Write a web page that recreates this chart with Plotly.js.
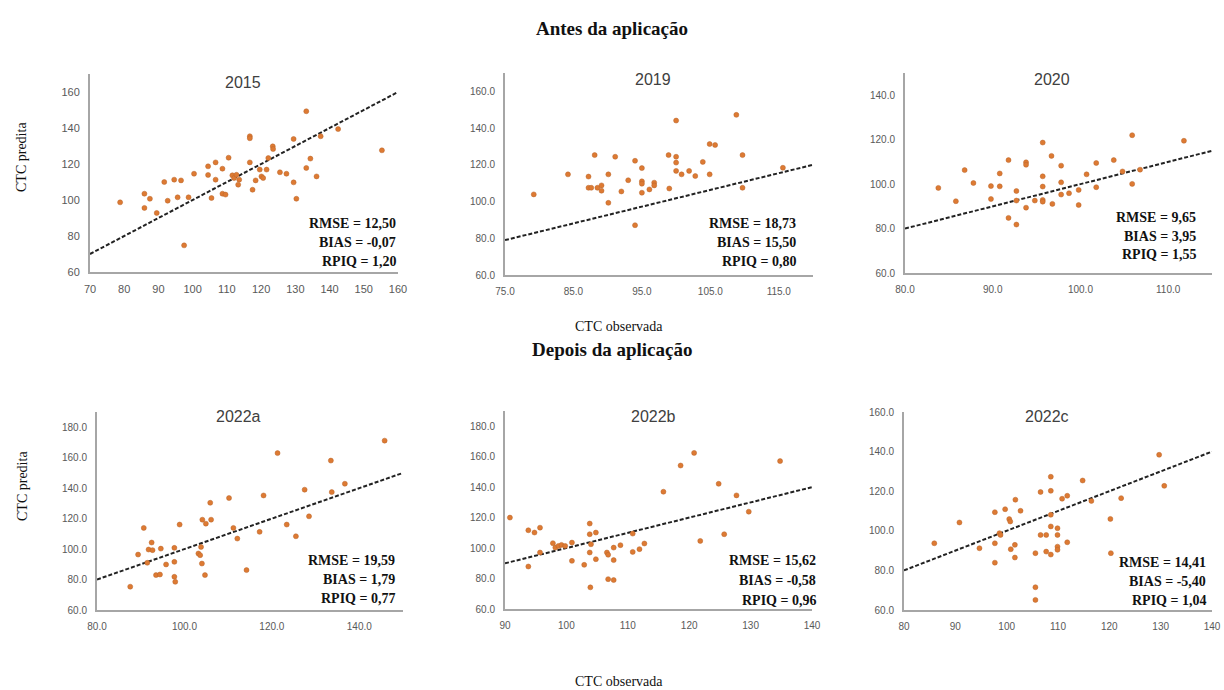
<!DOCTYPE html>
<html>
<head>
<meta charset="utf-8">
<script src="https://cdn.plot.ly/plotly-3.0.1.min.js"></script>
<style>html,body{margin:0;padding:0;background:#fff;}#chart{width:1224px;height:690px;}</style>
</head>
<body>
<div id="chart"></div>
<script>
// ---------- data ----------
const panelTitles = ["2015", "2019", "2020", "2022a", "2022b", "2022c"];
const statsRMSE = ["RMSE = 12,50", "RMSE = 18,73", "RMSE = 9,65", "RMSE = 19,59", "RMSE = 15,62", "RMSE = 14,41"];
const statsBIAS = ["BIAS = -0,07", "BIAS = 15,50", "BIAS = 3,95", "BIAS = 1,79", "BIAS = -0,58", "BIAS = -5,40"];
const statsRPIQ = ["RPIQ = 1,20", "RPIQ = 0,80", "RPIQ = 1,55", "RPIQ = 0,77", "RPIQ = 0,96", "RPIQ = 1,04"];

const obs2015 = [78.8,85.9,85.9,87.5,89.5,91.7,92.7,94.6,95.6,96.6,97.5,98.8,100.4,104.5,104.5,105.5,106.7,106.7,108.7,108.7,109.6,110.5,111.6,112.1,112.8,113.3,113.6,116.7,116.7,116.7,117.5,118.4,119.6,120.1,120.6,121.6,122.1,123.4,123.5,125.5,127.4,129.5,129.5,130.3,133.2,133.2,134.4,136.2,137.4,142.5,155.3];
const pred2015 = [98.7,103.5,95.6,100.7,92.8,110,99.6,111.3,101.5,110.9,74.8,101.5,114.6,118.7,113.9,101.1,120.9,111.3,117.4,103.5,103,123.5,113.7,112.2,114,108.5,111.3,135.4,134.3,120.9,105.7,110.9,116.9,113.1,112.2,116.9,123.3,129.8,128.3,115.4,114.6,133.9,109.8,100.7,149.3,117.8,123,113.1,135.4,139.4,127.6];

const obs2019 = [79.2,84.2,87.2,87.2,88.1,87.6,88.5,89.1,89.1,90.1,90.1,91.1,92,93,94,94,95,95,95,95,96.1,96.8,96.8,98.9,99,100,100,100,100,100.8,101.9,102.8,103.9,104.9,104.9,105.7,108.8,109.7,109.7,115.6];
const pred2019 = [103.9,114.8,113.6,107.5,125.3,107.5,107.5,108.8,105.9,114.8,99.3,124.4,105.5,111.6,122.2,87.1,118.2,111,109.7,104.8,106.6,110.3,108.8,125.3,107.1,144.1,124.4,121.2,116.7,114.8,116.7,113.9,121.6,114.8,131.3,130.8,147.2,125.3,107.5,118.4];

const obs2020 = [83.8,85.8,86.8,87.8,89.8,89.8,90.8,90.8,91.8,91.8,92.7,92.7,92.7,93.8,93.8,93.8,94.8,95.7,95.7,95.7,95.7,95.7,96.7,96.8,97.8,97.8,97.8,98.7,99.8,99.8,100.7,101.8,101.8,103.8,104.8,105.9,105.9,106.8,111.8];
const pred2020 = [98.3,92.3,106.3,100.5,99.1,93.3,104.8,99,110.8,84.8,96.9,92.6,81.8,109.8,108.7,89.4,92.6,118.7,103.5,98.9,92.9,92.1,112.7,91.1,108.3,100.8,95.3,95.9,97.4,90.6,104.4,109.5,98.6,110.8,105.7,122,100.1,106.5,119.5];

const obs2022a = [87.6,89.4,90.7,91.5,91.8,92.5,92.7,93.5,94.4,94.6,95.8,97.7,97.7,97.7,97.9,98.9,103.2,103.6,103.8,104,104.1,104.7,104.9,105.9,106.1,110.2,111.2,112.1,114.2,117.2,118.1,121.3,123.4,125.5,127.5,128.5,133.5,133.7,136.7,145.8];
const pred2022a = [75.3,96.4,113.9,91,99.7,104.3,99.3,82.9,83.3,100.3,89.9,100.8,91.6,81.8,78.5,116.1,97.1,96,101.4,90.5,119.3,82.9,116.7,130.4,119.3,133.5,113.9,106.9,86.2,111.3,135.2,163,116.1,108.4,139,121.5,158.1,137.4,142.9,171.2];

const obs2022b = [90.8,93.8,93.8,94.8,95.7,95.7,97.8,98.2,98.7,99.2,99.8,100.9,100.9,102.9,103.8,103.8,103.8,103.9,104,104.8,104.8,106.6,106.8,106.8,107.7,107.7,107.7,108.8,110.8,110.8,111.9,112.7,115.8,118.6,120.8,121.8,124.8,125.7,127.7,129.7,134.8];
const pred2022b = [120,87.9,111.7,110.2,113.4,97.1,103.2,100.3,101.4,102.1,101.4,103.6,91.6,89,116.1,109.1,97.1,74.2,102.5,110.2,92.7,97.1,95.6,79.6,79,92.1,100.3,101.9,109.5,97.5,99.3,103,137,154.2,162.5,104.7,142.2,109.1,134.6,123.9,157.1];

const obs2022c = [85.9,90.8,94.7,97.7,97.7,97.7,98.6,98.8,99.7,100.5,100.7,100.8,101.6,101.6,101.7,102.7,105.6,105.6,105.6,106.6,106.6,107.7,107.7,108.6,108.6,108.6,108.6,108.6,109.9,109.9,109.9,109.9,110.8,111.8,111.8,114.8,116.5,120.2,120.3,122.3,129.7,130.7];
const pred2022c = [93.7,104.2,91.2,109.4,93.7,83.9,98.8,97.9,110.9,105.9,104.7,90.7,92.9,86.5,115.7,110.1,88.7,71.5,65.1,119.6,97.9,97.9,89.5,127.3,120.2,108.1,102.2,88,101.3,97.9,92,90.4,116.2,117.7,94.2,125.4,115.1,106,88.7,116.5,138.4,122.7];

// reference (dashed) line end points per panel
const refX = [[70,160],[75,120],[80,115],[80,150],[90,140],[80,140]];
const refY = [[70,160],[79,120],[80,115],[80,150],[90,140],[80,140]];

// axis ranges and ticks
const xRanges = [[70,160],[75,120],[80,115],[80,150],[90,140],[80,140]];
const yRanges = [[60,170],[60,170],[60,150],[60,190],[60,190],[60,160]];
const xTicks = [[70,80,90,100,110,120,130,140,150,160],[75,85,95,105,115],[80,90,100,110],[80,100,120,140],[90,100,110,120,130,140],[80,90,100,110,120,130,140]];
const yTicks = [[60,80,100,120,140,160],[60,80,100,120,140,160],[60,80,100,120,140],[60,80,100,120,140,160,180],[60,80,100,120,140,160,180],[60,80,100,120,140,160]];
const xFormats = ["d", ".1f", ".1f", ".1f", "d", "d"];
const yFormats = ["d", ".1f", ".1f", ".1f", ".1f", ".1f"];

const obsSets = [obs2015, obs2019, obs2020, obs2022a, obs2022b, obs2022c];
const predSets = [pred2015, pred2019, pred2020, pred2022a, pred2022b, pred2022c];

// ---------- layout geometry (pixels) ----------
const W = 1224, H = 690;
const boxes = [ // [left, right, top, bottom]
  [90, 398, 74, 272], [505, 813, 73, 275], [905, 1212, 73, 273],
  [97, 403, 412, 610], [505, 812, 411, 609], [904, 1212, 412, 610]
];
const titlePos = [[243, 82], [653, 80], [1052, 80], [238, 417], [653, 417], [1047, 416]];
const statsPos = [ // [right x, y1, y2, y3]
  [398, 223, 243, 262], [798, 223, 242, 262], [1198, 217, 236, 255],
  [397, 560, 579, 598], [818, 560, 580, 600], [1208, 562, 581, 600]
];
const px = v => v / W;
const py = v => 1 - v / H;

const traces = [];
const layout = {
  width: W, height: H,
  margin: {l: 0, r: 0, t: 0, b: 0},
  paper_bgcolor: "#ffffff", plot_bgcolor: "rgba(0,0,0,0)",
  showlegend: false, hovermode: false,
  annotations: []
};

const serif = "Liberation Serif, Times New Roman, serif";
const sans = "Liberation Sans, Arial, sans-serif";

for (let i = 0; i < 6; i++) {
  const n = i === 0 ? "" : String(i + 1);
  const xa = "x" + n, ya = "y" + n;
  const b = boxes[i];
  traces.push({
    x: refX[i], y: refY[i], xaxis: xa, yaxis: ya, type: "scatter", mode: "lines",
    line: {color: "#222222", width: 2, dash: "4px,2px"}, cliponaxis: false
  });
  traces.push({
    x: obsSets[i], y: predSets[i], xaxis: xa, yaxis: ya, type: "scatter", mode: "markers",
    marker: {color: "#dd7a33", size: 5, line: {color: "#b8652a", width: 0.5}}
  });
  const tf = {family: sans, size: i === 0 ? 11 : 10, color: "#595959"};
  layout["xaxis" + n] = {
    domain: [px(b[0]), px(b[1])], range: xRanges[i], anchor: ya,
    tickvals: xTicks[i], tickformat: xFormats[i], showgrid: false, zeroline: false,
    showline: true, linecolor: "#a6a6a6", linewidth: 2, ticks: "", tickfont: tf,
    ticklabelstandoff: 6, fixedrange: true
  };
  layout["yaxis" + n] = {
    domain: [py(b[3]), py(b[2])], range: yRanges[i], anchor: xa,
    tickvals: yTicks[i], tickformat: yFormats[i], showgrid: false, zeroline: false,
    showline: true, linecolor: "#a6a6a6", linewidth: 2, ticks: "", tickfont: tf,
    ticklabelstandoff: 6, fixedrange: true
  };
  layout.annotations.push({
    xref: "paper", yref: "paper", x: px(titlePos[i][0]), y: py(titlePos[i][1]),
    text: panelTitles[i], showarrow: false, xanchor: "center", yanchor: "middle",
    font: {family: sans, size: 16, color: "#404040"}
  });
  const s = statsPos[i];
  [statsRMSE[i], statsBIAS[i], statsRPIQ[i]].forEach((t, k) => {
    layout.annotations.push({
      xref: "paper", yref: "paper", x: px(s[0]), y: py(s[k + 1]),
      text: "<b>" + t + "</b>", showarrow: false, xanchor: "right", yanchor: "middle",
      font: {family: serif, size: 14, color: "#111111"}
    });
  });
}

// figure-level texts
const bigTexts = [
  {t: "<b>Antes da aplicação</b>", x: 612, y: 28, size: 19, angle: 0},
  {t: "CTC observada", x: 619, y: 326, size: 14, angle: 0},
  {t: "<b>Depois da aplicação</b>", x: 612, y: 349, size: 19, angle: 0},
  {t: "CTC observada", x: 619, y: 681, size: 14, angle: 0},
  {t: "CTC predita", x: 22, y: 157, size: 14, angle: -90},
  {t: "CTC predita", x: 22, y: 486, size: 14, angle: -90}
];
bigTexts.forEach(o => layout.annotations.push({
  xref: "paper", yref: "paper", x: px(o.x), y: py(o.y), text: o.t, showarrow: false,
  xanchor: "center", yanchor: "middle", textangle: o.angle,
  font: {family: serif, size: o.size, color: "#111111"}
}));

Plotly.newPlot("chart", traces, layout, {displayModeBar: false, staticPlot: true});
</script>
</body>
</html>
